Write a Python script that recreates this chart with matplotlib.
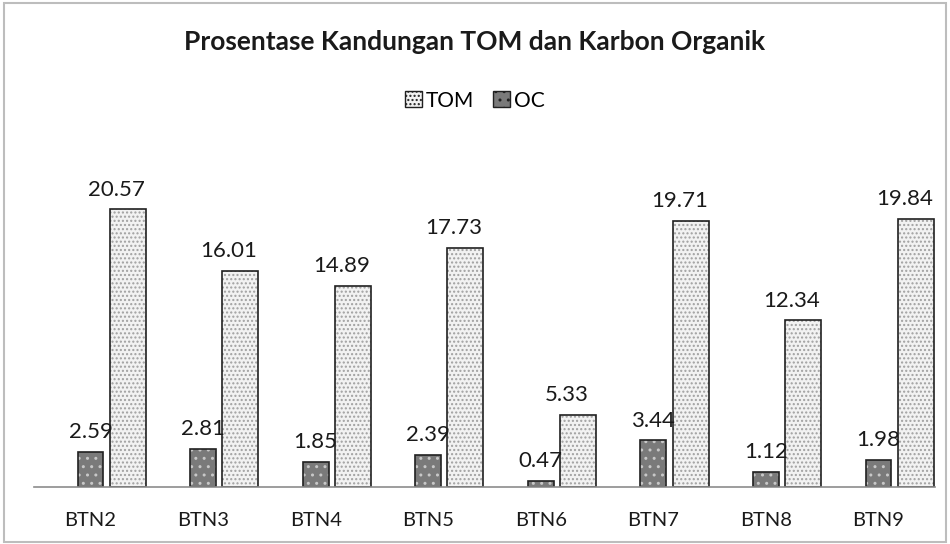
import numpy as np
import matplotlib.pyplot as plt
from matplotlib.patches import Rectangle, Patch

plt.rcParams['font.family'] = ['Lato', 'DejaVu Sans']

categories = ['BTN2', 'BTN3', 'BTN4', 'BTN5', 'BTN6', 'BTN7', 'BTN8', 'BTN9']
tom = [20.57, 16.01, 14.89, 17.73, 5.33, 19.71, 12.34, 19.84]
oc = [2.59, 2.81, 1.85, 2.39, 0.47, 3.44, 1.12, 1.98]

fig = plt.figure(figsize=(9.5, 5.44), dpi=100)
ax = fig.add_axes([0.036, 0.105, 0.948, 0.62])

x = np.arange(len(categories))
w_oc, w_tom = 0.23, 0.32
x_oc = x
x_tom = x + 0.33

# fills with dotted hatches, then black outlines on top
ax.bar(x_oc, oc, w_oc, color='#7a7a7a', edgecolor='#c8c8c8', hatch='..', linewidth=0)
ax.bar(x_oc, oc, w_oc, fill=False, edgecolor='#202020', linewidth=1.2)
ax.bar(x_tom, tom, w_tom, color='#f2f2f2', edgecolor='#a0a0a0', hatch='....', linewidth=0)
ax.bar(x_tom, tom, w_tom, fill=False, edgecolor='#202020', linewidth=1.2)

for xi, v in zip(x_oc, oc):
    ax.annotate(f'{v:.2f}', (xi, v), xytext=(0, 7), textcoords='offset points',
                ha='center', va='bottom', fontsize=16, color='#1a1a1a')
for xi, v in zip(x_tom, tom):
    ax.annotate(f'{v:.2f}', (xi - 0.1, v), xytext=(0, 7), textcoords='offset points',
                ha='center', va='bottom', fontsize=16, color='#1a1a1a')

ax.set_xlim(-0.5, len(categories) - 0.5)
ax.set_ylim(0, 25)
ax.set_xticks(x)
ax.set_xticklabels(categories, fontsize=14.5, color='#1a1a1a')
ax.tick_params(axis='x', length=0, pad=18)
ax.set_yticks([])
for s in ['top', 'right', 'left']:
    ax.spines[s].set_visible(False)
ax.spines['bottom'].set_color('#8c8c8c')
ax.spines['bottom'].set_linewidth(1.2)

fig.text(0.5, 0.922, 'Prosentase Kandungan TOM dan Karbon Organik',
         ha='center', va='center', fontsize=19, fontweight='bold', color='#1a1a1a')

handles = [Patch(facecolor='#f2f2f2', edgecolor='#202020', hatch='....'),
           Patch(facecolor='#7a7a7a', edgecolor='#202020', hatch='..')]
fig.legend(handles, ['TOM', 'OC'], loc='center', bbox_to_anchor=(0.5, 0.815),
           ncol=2, frameon=False, fontsize=15, handlelength=0.8, handleheight=0.8,
           handletextpad=0.2, columnspacing=0.9)

fig.patches.append(Rectangle((0.004, 0.004), 0.992, 0.99, transform=fig.transFigure,
                             fill=False, edgecolor='#bdbdbd', linewidth=1.5))

fig.savefig('out.png', dpi=100)
